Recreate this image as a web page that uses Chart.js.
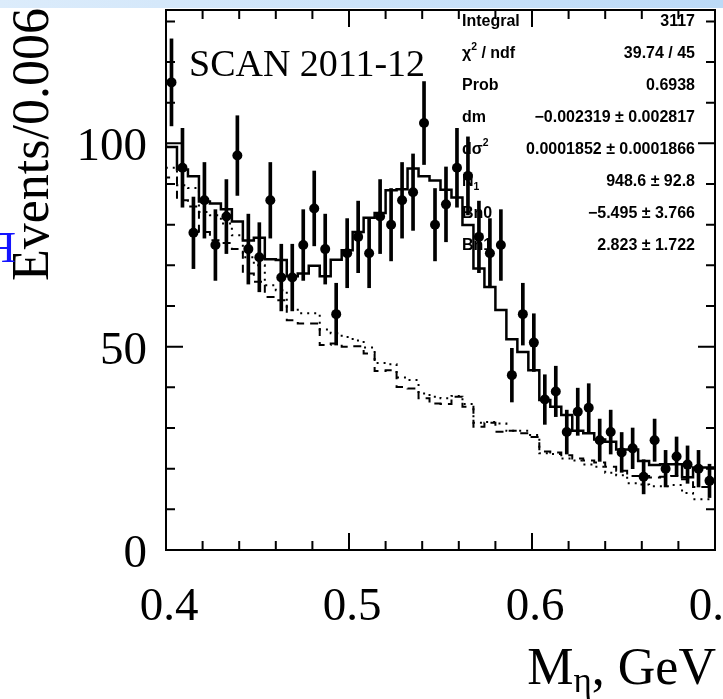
<!DOCTYPE html>
<html>
<head>
<meta charset="utf-8">
<script src="https://cdn.jsdelivr.net/npm/chart.js@4.4.0/dist/chart.umd.min.js"></script>
<style>
  html, body { margin: 0; padding: 0; background: #fff; }
  #wrap { width: 723px; height: 699px; overflow: hidden; }
</style>
</head>
<body>
<div id="wrap"><canvas id="myChart" width="723" height="699"></canvas></div>
<script>
// binning of the eta mass histogram (GeV)
const binLow = 0.4;
const binWidth = 0.006;

// data points (events per bin) and their error bars
const counts = [115, 94, 78, 86, 75, 82, 97, 74, 72, 86, 67, 67, 75, 84, 74, 58, 73, 77, 73, 82,
                80, 86, 88, 105, 80, 85, 94, 92, 77, 73, 75, 43, 58, 51, 37, 39, 29, 34, 35, 27,
                29, 24, 25, 18, 27, 20, 23, 21, 20, 17];
const errors = [10.7, 9.7, 8.8, 9.3, 8.7, 9.1, 9.8, 8.6, 8.5, 9.3, 8.2, 8.2, 8.7, 9.2, 8.6, 7.6, 8.5, 8.8, 8.5, 9.1,
                8.9, 9.3, 9.4, 10.2, 8.9, 9.2, 9.7, 9.6, 8.8, 8.5, 8.7, 6.6, 7.6, 7.1, 6.1, 6.2, 5.4, 5.8, 5.9, 5.2,
                5.4, 4.9, 5.0, 4.2, 5.2, 4.5, 4.8, 4.6, 4.5, 4.1];

// fit (solid) and the two background shapes (dashed, dotted)
const fitTotal = [99.8, 99.1, 93.6, 91.9, 85.7, 85.2, 83.8, 80.8, 76.1, 76.8, 71.5, 71.3, 67.3, 68.0, 69.9, 67.3, 71.4, 73.7, 78.2, 81.7,
                  82.9, 88.5, 88.7, 93.8, 91.9, 90.9, 88.6, 86.7, 79.9, 69.2, 64.7, 59.0, 51.8, 48.7, 44.2, 36.9, 35.2, 33.2, 29.3, 28.7,
                  27.2, 26.6, 24.7, 24.7, 21.9, 20.9, 21.1, 21.1, 17.9, 20.3];
const bkgDashed = [96, 91.6, 86, 84.5, 78.2, 76.2, 75.5, 74, 68, 66, 62.2, 61.4, 56.5, 55.7, 55.7, 50.4, 50.8, 50, 50.1, 48.3,
                   44, 44.2, 40.1, 39.7, 37.3, 36, 35.9, 37.7, 35.2, 30.3, 31.3, 29.1, 29.3, 28.7, 27.8, 24.2, 24, 23.3, 22.5, 22,
                   21.5, 20.5, 19.5, 18.2, 18.2, 17.8, 18, 18.2, 17.4, 15.5];
const bkgDotted = [97.5, 94, 89.7, 89, 83.1, 82.3, 80.3, 77.4, 72, 70, 65.1, 63.9, 59.4, 58.2, 58.2, 54.2, 53.3, 52.4, 51.5, 49.8,
                   46, 45.7, 42.4, 41.8, 38.5, 37.7, 37.3, 37.9, 35.9, 31.3, 31.5, 31.1, 29.3, 29.3, 28.3, 23.8, 23.6, 22.5, 22, 21,
                   20.5, 19, 18.4, 16.4, 16.1, 15.7, 15.7, 16, 14, 12.5];

// axis ticks
const xTickValues = [0.4, 0.5, 0.6, 0.7];
const xTickLabels = ['0.4', '0.5', '0.6', '0.7'];
const yTickValues = [0, 50, 100];
const yTickLabels = ['0', '50', '100'];

// fit statistics box
const statNames = ['Integral', 'χ^2 / ndf', 'Prob', 'dm', 'dσ^2', 'N_1', 'Bn0', 'Bn1'];
const statValues = ['3117', '39.74 / 45', '0.6938', '\u22120.002319 \u00b1 0.002817', '0.0001852 \u00b1 0.0001866',
                    '948.6 \u00b1 92.8', '\u22125.495 \u00b1 3.766', '2.823 \u00b1 1.722'];

const serif = '"Liberation Serif", "Times New Roman", serif';
const sans = '"Liberation Sans", Arial, sans-serif';

function stepData(vals) {
    const d = vals.map((v, i) => ({ x: binLow + i * binWidth, y: v }));
    d.push({ x: binLow + vals.length * binWidth, y: vals[vals.length - 1] });
    return d;
}
const centers = counts.map((n, i) => binLow + (i + 0.5) * binWidth);

// small text with ^ (superscript) and _ (subscript) markers
function drawRich(ctx, str, x, y, size) {
    let cx = x;
    for (let i = 0; i < str.length; i++) {
        let ch = str[i], dy = 0, s = size;
        if (ch === '^' || ch === '_') {
            dy = ch === '^' ? -size * 0.4 : size * 0.3;
            s = size * 0.65;
            ch = str[++i];
        }
        ctx.font = 'bold ' + s + 'px ' + sans;
        ctx.fillText(ch, cx, y + dy);
        cx += ctx.measureText(ch).width;
    }
}

const rootStyle = {
    id: 'rootStyle',
    beforeDraw(chart) {
        const ctx = chart.ctx;
        ctx.save();
        ctx.fillStyle = '#fff';
        ctx.fillRect(0, 0, chart.width, chart.height);
        const g = ctx.createLinearGradient(0, 0, chart.width, 0);
        g.addColorStop(0, '#dcecfb');
        g.addColorStop(1, '#bcdaf7');
        ctx.fillStyle = g;
        ctx.fillRect(0, 0, chart.width, 8);
        ctx.restore();
    },
    beforeDatasetsDraw(chart) {
        const ctx = chart.ctx;
        ctx.save();
        ctx.fillStyle = '#000';
        ctx.textBaseline = 'middle';
        statNames.forEach((name, i) => {
            const y = 22 + i * 32;
            ctx.textAlign = 'left';
            drawRich(ctx, name, 462, y, 16);
            ctx.textAlign = 'right';
            ctx.font = 'bold 16px ' + sans;
            ctx.fillText(statValues[i], 695, y);
        });
        ctx.textAlign = 'left';
        ctx.textBaseline = 'alphabetic';
        ctx.font = '38px ' + serif;
        ctx.fillText('SCAN 2011-12', 189, 76);
        ctx.restore();
    },
    afterDatasetsDraw(chart) {
        const ctx = chart.ctx;
        const a = chart.chartArea;
        const xs = chart.scales.x, ys = chart.scales.y;
        ctx.save();
        ctx.strokeStyle = '#000';
        ctx.lineWidth = 2;
        ctx.strokeRect(a.left, a.top, a.right - a.left, a.bottom - a.top);
        ctx.beginPath();
        for (let k = 1; k < 15; k++) {
            const px = xs.getPixelForValue(binLow + k * 0.02);
            const len = k % 5 === 0 ? 17 : 9;
            ctx.moveTo(px, a.bottom); ctx.lineTo(px, a.bottom - len);
            ctx.moveTo(px, a.top); ctx.lineTo(px, a.top + len);
        }
        for (let v = 10; v < ys.max; v += 10) {
            const py = ys.getPixelForValue(v);
            const len = v % 50 === 0 ? 17 : 9;
            ctx.moveTo(a.left, py); ctx.lineTo(a.left + len, py);
            ctx.moveTo(a.right, py); ctx.lineTo(a.right - len, py);
        }
        ctx.stroke();

        ctx.fillStyle = '#000';
        ctx.font = '47px ' + serif;
        ctx.textAlign = 'right';
        ctx.textBaseline = 'alphabetic';
        yTickValues.forEach((v, i) => {
            ctx.fillText(yTickLabels[i], 147, ys.getPixelForValue(v) + 17);
        });
        ctx.textAlign = 'center';
        xTickValues.forEach((v, i) => {
            ctx.fillText(xTickLabels[i], xs.getPixelForValue(v) + 3, 620);
        });

        // x title: M_eta, GeV
        ctx.textAlign = 'left';
        ctx.font = '52px ' + serif;
        const wM = ctx.measureText('M').width;
        const wRest = ctx.measureText(', GeV').width;
        ctx.font = '35px ' + serif;
        const wEta = ctx.measureText('\u03b7').width;
        let x0 = 716 - (wM + wEta + wRest);
        ctx.font = '52px ' + serif;
        ctx.fillText('M', x0, 684);
        ctx.font = '35px ' + serif;
        ctx.fillText('\u03b7', x0 + wM, 692);
        ctx.font = '52px ' + serif;
        ctx.fillText(', GeV', x0 + wM + wEta, 684);

        // y title
        ctx.save();
        ctx.translate(48, 281);
        ctx.rotate(-Math.PI / 2);
        ctx.font = '52px ' + serif;
        ctx.fillText('Events/0.006', 0, 0);
        ctx.restore();

        // clipped blue glyph at the left border
        ctx.save();
        ctx.translate(16, 262);
        ctx.scale(-1, 1);
        ctx.fillStyle = '#1414ff';
        ctx.font = '44px ' + serif;
        ctx.fillText('F', 0, 0);
        ctx.restore();
        ctx.restore();
    }
};

const ctx = document.getElementById('myChart').getContext('2d');
new Chart(ctx, {
    type: 'line',
    data: {
        datasets: [
            { data: stepData(bkgDotted), stepped: 'after', borderColor: '#000', borderWidth: 2,
              borderDash: [2, 5], pointRadius: 0, fill: false },
            { data: stepData(bkgDashed), stepped: 'after', borderColor: '#000', borderWidth: 2,
              borderDash: [8, 6], pointRadius: 0, fill: false },
            { data: stepData(fitTotal), stepped: 'after', borderColor: '#000', borderWidth: 2.5,
              pointRadius: 0, fill: false },
            { type: 'bar', data: counts.map((n, i) => ({ x: centers[i], y: [n - errors[i], n + errors[i]] })),
              backgroundColor: '#000', barThickness: 3, borderWidth: 0 },
            { data: counts.map((n, i) => ({ x: centers[i], y: n })), showLine: false,
              pointRadius: 5, pointBackgroundColor: '#000', pointBorderWidth: 0 }
        ]
    },
    options: {
        responsive: false,
        animation: false,
        devicePixelRatio: 1,
        layout: { padding: { left: 166, right: 8, top: 10, bottom: 149 }, autoPadding: false },
        plugins: { legend: { display: false }, tooltip: { enabled: false } },
        scales: {
            x: { type: 'linear', min: 0.4, max: 0.7, offset: false, display: false },
            y: { type: 'linear', min: 0, max: 132.8, display: false }
        }
    },
    plugins: [rootStyle]
});
</script>
</body>
</html>
